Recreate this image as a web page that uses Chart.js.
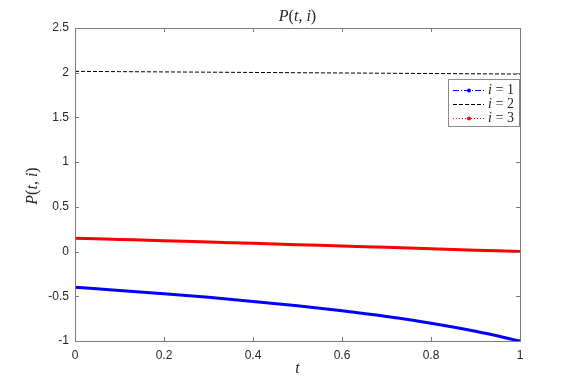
<!DOCTYPE html>
<html>
<head>
<meta charset="utf-8">
<script src="https://cdn.jsdelivr.net/npm/chart.js@4/dist/chart.umd.min.js"></script>
<style>
    body { margin: 0; background: #fff; }
    #wrap { width: 575px; height: 383px; }
</style>
</head>
<body>
<div id="wrap"><canvas id="chart" width="575" height="383"></canvas></div>
<script>
// values
const tValues = [0, 0.1, 0.2, 0.3, 0.4, 0.5, 0.6, 0.7, 0.8, 0.9, 1];
const p1 = [-0.40, -0.434, -0.471, -0.512, -0.557, -0.607, -0.663, -0.727, -0.801, -0.891, -1.0];
const p2 = [2.015, 2.012, 2.009, 2.006, 2.003, 2.0, 1.997, 1.994, 1.991, 1.988, 1.985];
const p3 = [0.15, 0.136, 0.122, 0.107, 0.092, 0.077, 0.062, 0.047, 0.032, 0.016, 0.0];
const seriesLabels = ['1', '2', '3'];
const xTicks = [0, 0.2, 0.4, 0.6, 0.8, 1];
const xTickLabels = ['0', '0.2', '0.4', '0.6', '0.8', '1'];
const yTicks = [-1, -0.5, 0, 0.5, 1, 1.5, 2, 2.5];
const yTickLabels = ['-1', '-0.5', '0', '0.5', '1', '1.5', '2', '2.5'];

const axisColor = '#7a7a7a';
const textColor = '#262626';
const serif = '"Liberation Serif", "DejaVu Serif", serif';

function points(ys) {
    return tValues.map((t, i) => ({x: t, y: ys[i]}));
}

// draws a math-ish string: [text, italic] pieces, centred at x,y
function drawMath(ctx, parts, x, y, size) {
    let widths = parts.map(p => {
        ctx.font = (p[1] ? 'italic ' : '') + size + 'px ' + serif;
        return ctx.measureText(p[0]).width;
    });
    let total = widths.reduce((a, b) => a + b, 0);
    let cx = x - total / 2;
    ctx.textAlign = 'left';
    ctx.textBaseline = 'middle';
    parts.forEach((p, i) => {
        ctx.font = (p[1] ? 'italic ' : '') + size + 'px ' + serif;
        ctx.fillText(p[0], cx, y);
        cx += widths[i];
    });
}

const pti = [['P', true], ['(', false], ['t', true], [', ', false], ['i', true], [')', false]];

const frame = {
    id: 'frame',
    afterDraw(chart) {
        const ctx = chart.ctx;
        const a = chart.chartArea;
        const xs = chart.scales.x, ys = chart.scales.y;
        ctx.save();
        ctx.strokeStyle = axisColor;
        ctx.lineWidth = 1;
        ctx.strokeRect(Math.round(a.left) + 0.5, Math.round(a.top) + 0.5,
                Math.round(a.right - a.left), Math.round(a.bottom - a.top));
        ctx.beginPath();
        xTicks.forEach(v => {
            let px = Math.round(xs.getPixelForValue(v)) + 0.5;
            ctx.moveTo(px, a.bottom); ctx.lineTo(px, a.bottom - 4);
            ctx.moveTo(px, a.top); ctx.lineTo(px, a.top + 4);
        });
        yTicks.forEach(v => {
            let py = Math.round(ys.getPixelForValue(v)) + 0.5;
            ctx.moveTo(a.left, py); ctx.lineTo(a.left + 4, py);
            ctx.moveTo(a.right, py); ctx.lineTo(a.right - 4, py);
        });
        ctx.stroke();

        // titles
        ctx.fillStyle = textColor;
        drawMath(ctx, pti, (a.left + a.right) / 2, 17, 16);
        drawMath(ctx, [['t', true]], (a.left + a.right) / 2, 369, 16);
        ctx.save();
        ctx.translate(33, 186);
        ctx.rotate(-Math.PI / 2);
        drawMath(ctx, pti, 0, 0, 16);
        ctx.restore();

        // legend box, MATLAB style
        const bx = 448, by = 79, bw = 71, bh = 47;
        ctx.fillStyle = '#fff';
        ctx.fillRect(bx, by, bw, bh);
        ctx.strokeStyle = '#8a8a8a';
        ctx.strokeRect(bx + 0.5, by + 0.5, bw, bh);
        const styles = [
            {color: '#0000ff', dash: [6, 2, 1, 2], dot: true},
            {color: '#000000', dash: [4, 2], dot: false},
            {color: '#ff0000', dash: [1, 2], dot: true}
        ];
        styles.forEach((s, i) => {
            let ly = 90.5 + i * 14;
            ctx.strokeStyle = s.color;
            ctx.lineWidth = 1;
            ctx.setLineDash(s.dash);
            ctx.beginPath();
            ctx.moveTo(453, ly); ctx.lineTo(484, ly);
            ctx.stroke();
            ctx.setLineDash([]);
            if (s.dot) {
                ctx.fillStyle = s.color;
                ctx.beginPath();
                ctx.arc(469, ly, 2, 0, Math.PI * 2);
                ctx.fill();
            }
            ctx.fillStyle = textColor;
            drawMath(ctx, [['i', true], [' = ' + seriesLabels[i], false]], 501, ly, 14);
        });
        ctx.restore();
    }
};

const config = {
    type: 'line',
    data: {
        datasets: [{
                label: 'i = ' + seriesLabels[0],
                data: points(p1),
                borderColor: '#0000ff',
                borderWidth: 3,
                pointRadius: 0,
                cubicInterpolationMode: 'monotone'
            }, {
                label: 'i = ' + seriesLabels[1],
                data: points(p2),
                borderColor: '#000000',
                borderWidth: 1,
                borderDash: [4, 2],
                pointRadius: 0
            }, {
                label: 'i = ' + seriesLabels[2],
                data: points(p3),
                borderColor: '#ff0000',
                borderWidth: 3,
                pointRadius: 0,
                cubicInterpolationMode: 'monotone'
            }]
    },
    options: {
        responsive: false,
        animation: false,
        devicePixelRatio: 1,
        layout: {padding: {left: 0, right: 55, top: 28, bottom: 0}},
        scales: {
            x: {
                type: 'linear',
                min: 0,
                max: 1,
                afterBuildTicks: (s) => { s.ticks = xTicks.map(v => ({value: v})); },
                afterFit: (s) => { s.height = 42; },
                grid: {display: false, drawTicks: false},
                border: {display: false},
                ticks: {
                    color: textColor,
                    padding: 7,
                    maxRotation: 0,
                    callback: (v, i) => xTickLabels[i],
                    font: {family: '"Liberation Sans", Arial, sans-serif', size: 12}
                }
            },
            y: {
                min: -1,
                max: 2.5,
                afterBuildTicks: (s) => { s.ticks = yTicks.map(v => ({value: v})); },
                afterFit: (s) => { s.width = 75; },
                grid: {display: false, drawTicks: false},
                border: {display: false},
                ticks: {
                    color: textColor,
                    padding: 6,
                    callback: (v, i) => yTickLabels[i],
                    font: {family: '"Liberation Sans", Arial, sans-serif', size: 12}
                }
            }
        },
        plugins: {
            legend: {display: false},
            title: {display: false},
            tooltip: {enabled: false}
        }
    },
    plugins: [frame]
};

new Chart(document.getElementById('chart'), config);
</script>
</body>
</html>
